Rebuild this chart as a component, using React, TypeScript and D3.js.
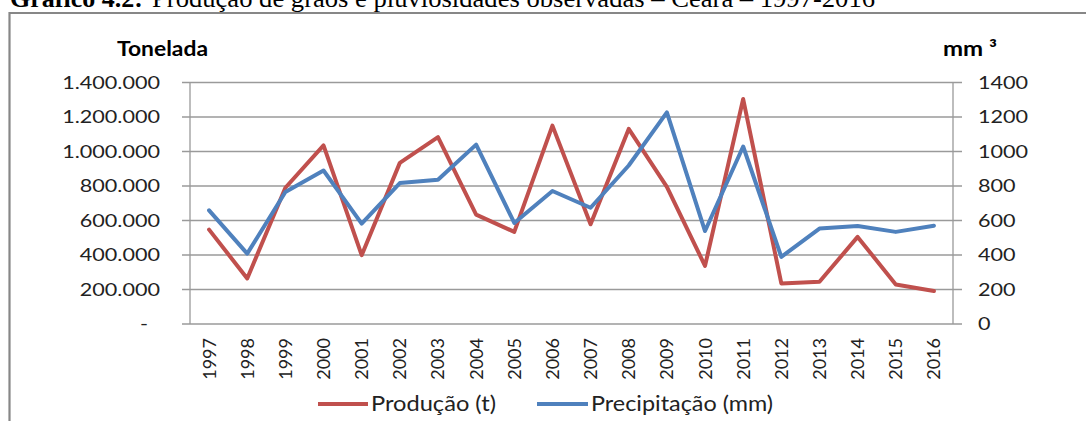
import React from 'react';
import * as d3 from 'd3';

const years = ['1997','1998','1999','2000','2001','2002','2003','2004','2005','2006','2007','2008','2009','2010','2011','2012','2013','2014','2015','2016'];
const producao = [547000, 264000, 790000, 1035000, 399000, 934000, 1083000, 634000, 534000, 1150000, 578000, 1131000, 795000, 337000, 1304000, 235000, 245000, 505000, 229000, 191000];
const precipitacao = [659, 408, 765, 890, 582, 817, 836, 1040, 586, 771, 674, 919, 1227, 539, 1029, 389, 553, 568, 534, 570];
const leftTicks = [0, 200000, 400000, 600000, 800000, 1000000, 1200000, 1400000];
const rightTicks = [0, 200, 400, 600, 800, 1000, 1200, 1400];
const titleBold = 'Gráfico 4.2:';
const titleRest = 'Produção de grãos e pluviosidades observadas – Ceará – 1997-2016';
const leftTitle = 'Tonelada';
const rightTitle = 'mm ³';
const seriesNames = ['Produção (t)', 'Precipitação (mm)'];

const W = 1086, H = 421;
const RED = '#C0504D', BLUE = '#4F81BD';
const GRID = '#9a9a9a';
const SANS = 'Lato, "Open Sans", sans-serif';

export default function App() {
  const x = d3.scaleBand<string>().domain(years).range([190, 953]);
  const bw = x.bandwidth();
  const yL = d3.scaleLinear().domain([0, 1400000]).range([324, 82.5]);
  const yR = d3.scaleLinear().domain([0, 1400]).range([324, 82.5]);
  const loc = d3.formatLocale({ decimal: ',', thousands: '.', grouping: [3], currency: ['', ''] });
  const fmt = loc.format(',');
  const cx = (i: number) => (x(years[i]) as number) + bw / 2;
  const lineL = d3.line<number>().x((_, i) => cx(i)).y(d => yL(d));
  const lineR = d3.line<number>().x((_, i) => cx(i)).y(d => yR(d));

  return (
    <div style={{ position: 'absolute', left: 0, top: 0 }}>
      <svg width={W} height={H} style={{ display: 'block', background: '#fff' }}>
        {/* title */}
        <text x={10} y={7} fontFamily='"Liberation Serif", "Times New Roman", serif' fontWeight="bold" fontSize={26} textLength={133} lengthAdjust="spacingAndGlyphs" fill="#000">{titleBold}</text>
        <text x={152} y={7} fontFamily='"Liberation Serif", "Times New Roman", serif' fontSize={26} textLength={723} lengthAdjust="spacingAndGlyphs" fill="#000">{titleRest}</text>
        {/* frame */}
        <line x1={9.5} x2={W + 2} y1={13} y2={13} stroke="#878787" strokeWidth={2.2} />
        <line x1={9.5} x2={9.5} y1={12} y2={H + 2} stroke="#878787" strokeWidth={2.2} />

        {/* gridlines and ticks */}
        {leftTicks.map(t => (
          <line key={'g' + t} x1={182} x2={962} y1={yL(t)} y2={yL(t)} stroke={GRID} strokeWidth={1.3} />
        ))}
        <line x1={190} x2={190} y1={yL(1400000)} y2={yL(0)} stroke={GRID} strokeWidth={1.3} />
        <line x1={953} x2={953} y1={yR(1400)} y2={yR(0)} stroke={GRID} strokeWidth={1.3} />

        {/* left tick labels */}
        {leftTicks.map(t => (
          <text key={'l' + t} transform={`translate(${t === 0 ? 148 : 160},${yL(t)}) scale(1.2,1)`} dy="0.36em" textAnchor="end" fontFamily={SANS} fontSize={18} fill="#222">{t === 0 ? '-' : fmt(t)}</text>
        ))}
        {/* right tick labels */}
        {rightTicks.map(t => (
          <text key={'r' + t} transform={`translate(978,${yR(t)}) scale(1.2,1)`} dy="0.36em" textAnchor="start" fontFamily={SANS} fontSize={18} fill="#222">{String(t)}</text>
        ))}

        {/* axis titles */}
        <text x={117} y={56} fontFamily={SANS} fontWeight="bold" fontSize={20} textLength={91} lengthAdjust="spacingAndGlyphs" fill="#000">{leftTitle}</text>
        <text x={943} y={56} fontFamily={SANS} fontWeight="bold" fontSize={20} textLength={54} lengthAdjust="spacingAndGlyphs" fill="#000">{rightTitle}</text>

        {/* x labels */}
        {years.map((yv, i) => (
          <text key={'x' + yv} transform={`translate(${cx(i)},338) rotate(-90)`} dy="0.36em" textAnchor="end" fontFamily={SANS} fontSize={18} fill="#222">{yv}</text>
        ))}

        {/* series */}
        <path d={lineL(producao) || ''} fill="none" stroke={RED} strokeWidth={4} strokeLinejoin="round" strokeLinecap="round" />
        <path d={lineR(precipitacao) || ''} fill="none" stroke={BLUE} strokeWidth={4} strokeLinejoin="round" strokeLinecap="round" />

        {/* legend */}
        <line x1={318} x2={368} y1={404} y2={404} stroke={RED} strokeWidth={4} />
        <text x={371} y={411} fontFamily={SANS} fontSize={21} textLength={125} lengthAdjust="spacingAndGlyphs" fill="#222">{seriesNames[0]}</text>
        <line x1={537} x2={588} y1={404} y2={404} stroke={BLUE} strokeWidth={4} />
        <text x={591} y={411} fontFamily={SANS} fontSize={21} textLength={182} lengthAdjust="spacingAndGlyphs" fill="#222">{seriesNames[1]}</text>
      </svg>
    </div>
  );
}
